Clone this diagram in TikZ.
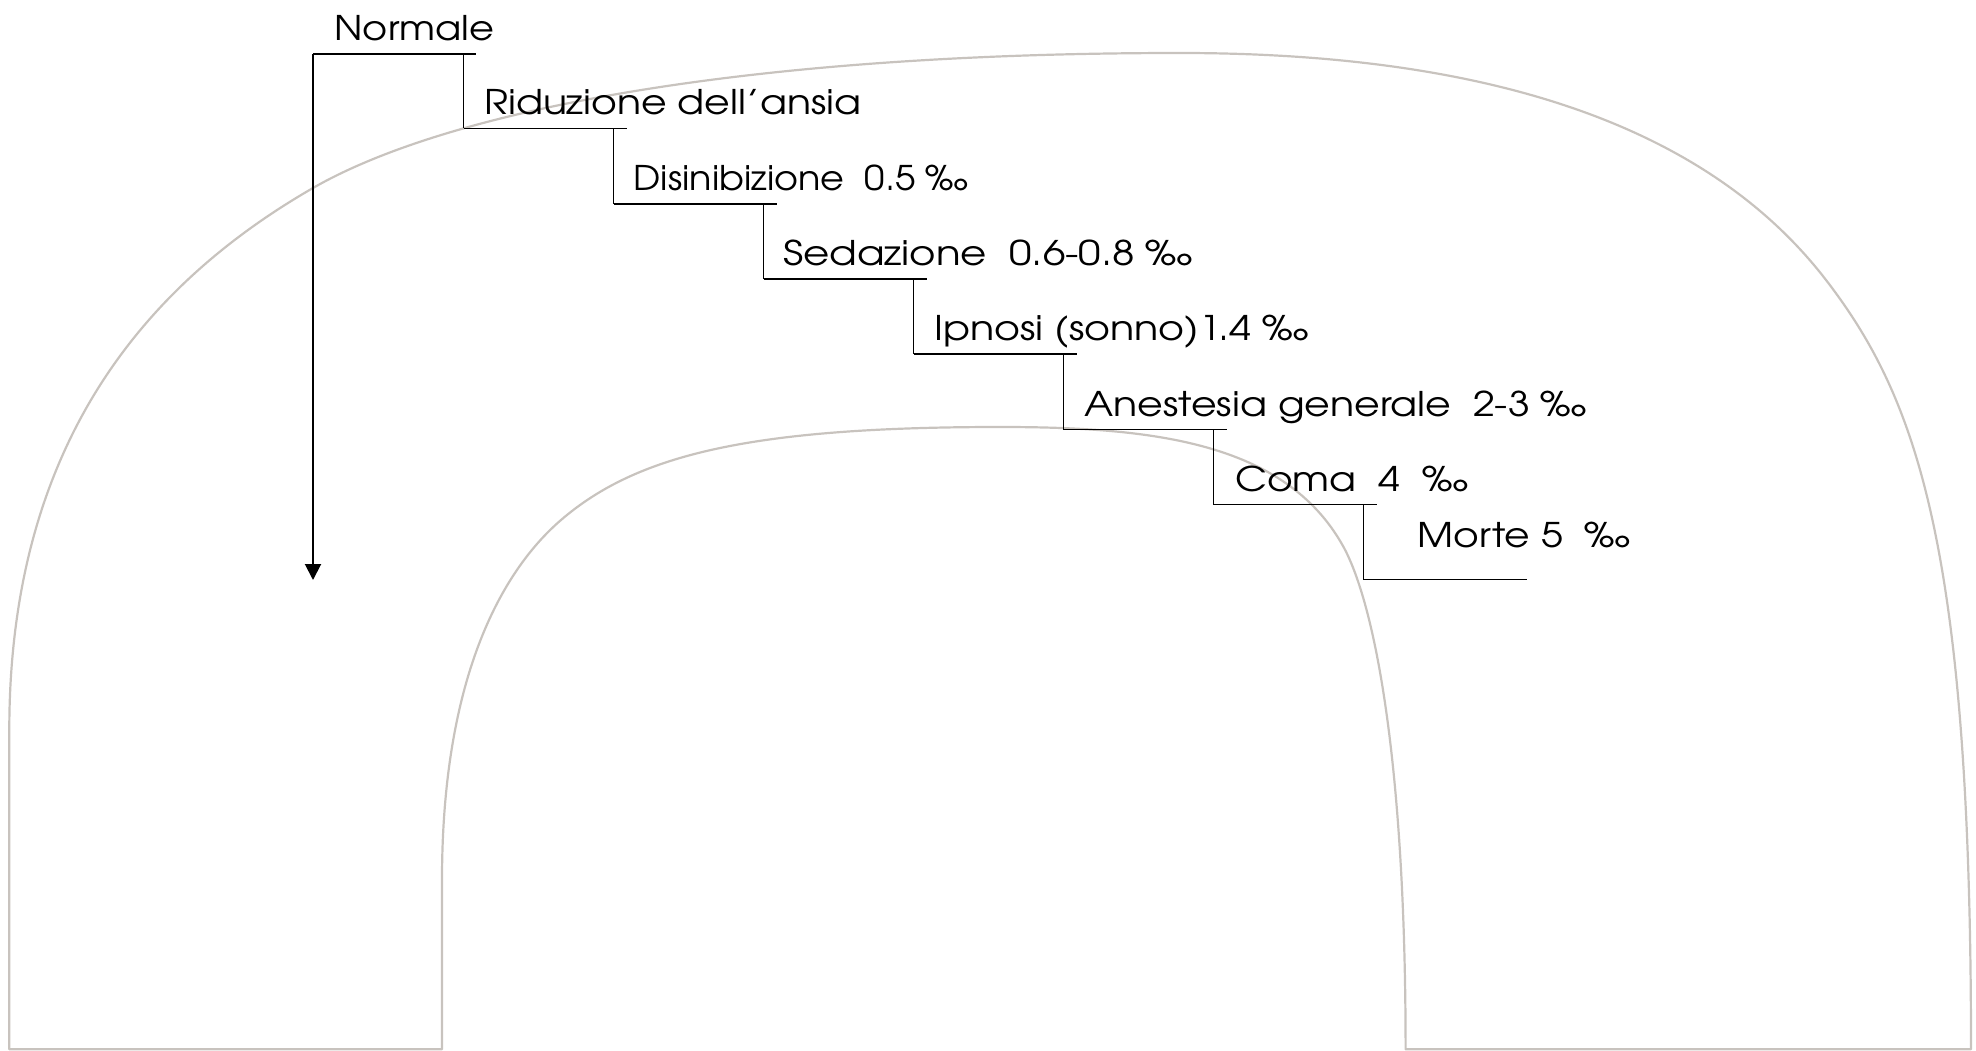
\documentclass[tikz,border=0pt]{standalone}
\usepackage{fontspec}
\usepackage{graphicx}
\setmainfont{TeX Gyre Adventor}
\usetikzlibrary{arrows.meta}
\definecolor{arch}{RGB}{200,195,190}
\newcommand\wlabel[2]{\resizebox{#1pt}{\height}{#2}}
\begin{document}
\begin{tikzpicture}[x=1pt,y=-1pt,
  stepline/.style={line width=1.7pt, black},
  lbl/.style={anchor=base west, inner sep=0pt, font=\fontsize{34}{40}\selectfont},
  archline/.style={draw=arch, line width=2.2pt, line join=round}]
\useasboundingbox (0,0) rectangle (1976,1051);
% arch outline
\draw[archline] (9.3,1049.3) -- (9.3,730)
  .. controls (9.3,450) and (139.6,287.8) .. (313,188)
  .. controls (443,113.2) and (730,53) .. (1180,53)
  .. controls (1480,53) and (1704,121.4) .. (1826,280)
  .. controls (1917.5,399) and (1971,549) .. (1971,1049.3)
  -- (1405.6,1049.3)
  .. controls (1405.6,749) and (1372.2,598.4) .. (1343,546)
  .. controls (1284.6,441.2) and (1150,427) .. (1000,427)
  .. controls (750,427) and (636.8,454.8) .. (561,520)
  .. controls (500.4,572.2) and (442,680) .. (442,880)
  -- (442,1049.3) -- cycle;
% step corners
\coordinate (s0) at (313,54);
\coordinate (s1) at (463.5,128.5);
\coordinate (s2) at (613.5,204);
\coordinate (s3) at (763.5,279);
\coordinate (s4) at (913.5,354);
\coordinate (s5) at (1063.5,429.5);
\coordinate (s6) at (1213.5,504.5);
\coordinate (s7) at (1363.5,579.5);
\coordinate (aend) at (313,580);
% labels
\node[lbl] (n0) at (334,40.5) {\wlabel{160}{Normale}};
\node[lbl] (n1) at (484,115) {\wlabel{377}{Riduzione dell’ansia}};
\node[lbl] (n2) at (633.5,190.5) {\wlabel{335}{Disinibizione~ 0.5 ‰}};
\node[lbl] (n3) at (783,265.5) {\wlabel{410}{Sedazione~ 0.6-0.8 ‰}};
\node[lbl] (n4) at (934,340.5) {\wlabel{375}{Ipnosi (sonno)1.4 ‰}};
\node[lbl] (n5) at (1084,416) {\wlabel{503}{Anestesia generale~ 2-3 ‰}};
\node[lbl] (n6) at (1235,491) {\wlabel{233}{Coma~ 4~ ‰}};
\node[lbl] (n7) at (1417.5,547.5) {\wlabel{213}{Morte 5~ ‰}};
% stairs
\foreach \a/\b in {s0/s1,s1/s2,s2/s3,s3/s4,s4/s5,s5/s6,s6/s7}{
  \draw[stepline] (\a) -- ++(163,0);
  \draw[stepline] (\a -| \b) -- (\b);
}
\draw[stepline] (s7) -- ++(163,0);
\draw[stepline, line width=2pt, -{Triangle[length=16pt,width=16pt]}] (s0) -- (aend);
\end{tikzpicture}
\end{document}
